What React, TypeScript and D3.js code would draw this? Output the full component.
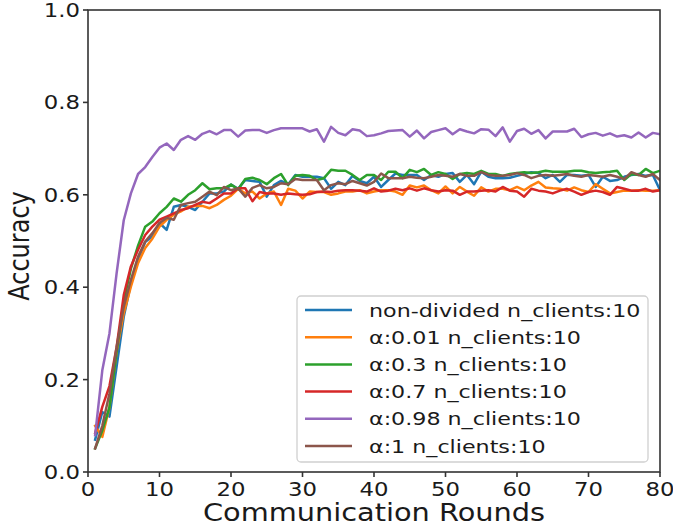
import React from "react";
import * as d3 from "d3";

const rounds: number[] = Array.from({ length: 80 }, (_, i) => i + 1);

const nonDivided: number[] = [
  0.07, 0.13, 0.12, 0.228, 0.336, 0.408, 0.459, 0.498, 0.51, 0.539,
  0.524, 0.574, 0.578, 0.574, 0.567, 0.585, 0.603, 0.603, 0.607, 0.622,
  0.613, 0.632, 0.63, 0.628, 0.596, 0.621, 0.63, 0.623, 0.643, 0.639,
  0.639, 0.639, 0.636, 0.613, 0.628, 0.621, 0.641, 0.63, 0.625, 0.639,
  0.617, 0.632, 0.646, 0.643, 0.643, 0.643, 0.632, 0.643, 0.639, 0.645,
  0.647, 0.628, 0.643, 0.623, 0.65, 0.639, 0.636, 0.636, 0.637, 0.641,
  0.645, 0.649, 0.647, 0.636, 0.643, 0.628, 0.643, 0.643, 0.641, 0.643,
  0.617, 0.639, 0.63, 0.632, 0.639, 0.643, 0.645, 0.641, 0.643, 0.61,
];

const alpha001: number[] = [
  0.1, 0.076, 0.14, 0.26, 0.344, 0.401, 0.452, 0.485, 0.505, 0.531,
  0.546, 0.557, 0.564, 0.574, 0.576, 0.576, 0.571, 0.578, 0.589, 0.598,
  0.613, 0.603, 0.607, 0.592, 0.603, 0.607, 0.578, 0.613, 0.609, 0.592,
  0.607, 0.606, 0.606, 0.6, 0.603, 0.607, 0.607, 0.61, 0.603, 0.607,
  0.61, 0.61, 0.607, 0.6, 0.62, 0.616, 0.62, 0.61, 0.603, 0.618,
  0.603, 0.617, 0.607, 0.598, 0.616, 0.607, 0.613, 0.613, 0.61, 0.617,
  0.61, 0.62, 0.628, 0.616, 0.614, 0.613, 0.609, 0.616, 0.61, 0.606,
  0.623, 0.613, 0.603, 0.606, 0.609, 0.609, 0.61, 0.609, 0.609, 0.61,
];

const alpha03: number[] = [
  0.051, 0.09, 0.14, 0.26, 0.37, 0.44, 0.49, 0.531, 0.542, 0.56,
  0.574, 0.592, 0.585, 0.6, 0.61, 0.625, 0.612, 0.614, 0.614, 0.622,
  0.612, 0.634, 0.637, 0.632, 0.623, 0.636, 0.645, 0.621, 0.641, 0.643,
  0.641, 0.632, 0.636, 0.654, 0.652, 0.652, 0.643, 0.632, 0.643, 0.643,
  0.632, 0.65, 0.65, 0.636, 0.654, 0.649, 0.656, 0.643, 0.649, 0.645,
  0.634, 0.645, 0.647, 0.645, 0.652, 0.645, 0.645, 0.641, 0.645, 0.647,
  0.649, 0.647, 0.649, 0.652, 0.65, 0.65, 0.65, 0.652, 0.652, 0.649,
  0.647, 0.649, 0.65, 0.652, 0.632, 0.645, 0.643, 0.656, 0.647, 0.652,
];

const alpha07: number[] = [
  0.084, 0.141, 0.186, 0.27, 0.383, 0.445, 0.481, 0.513, 0.531, 0.546,
  0.553, 0.56, 0.567, 0.571, 0.578, 0.585, 0.582, 0.592, 0.603, 0.603,
  0.614, 0.614, 0.586, 0.606, 0.603, 0.603, 0.6, 0.603, 0.601, 0.6,
  0.601, 0.606, 0.607, 0.606, 0.609, 0.61, 0.61, 0.609, 0.607, 0.614,
  0.607, 0.609, 0.613, 0.61, 0.614, 0.609, 0.614, 0.61, 0.607, 0.61,
  0.609, 0.6, 0.607, 0.607, 0.609, 0.61, 0.607, 0.617, 0.609, 0.607,
  0.596, 0.613, 0.609, 0.607, 0.603, 0.609, 0.613, 0.607, 0.6, 0.606,
  0.609, 0.606, 0.6, 0.617, 0.613, 0.609, 0.609, 0.613, 0.607, 0.61,
];

const alpha098: number[] = [
  0.08, 0.22, 0.3, 0.43, 0.545, 0.603, 0.645, 0.66, 0.682, 0.702,
  0.711, 0.697, 0.719, 0.727, 0.719, 0.732, 0.738, 0.731, 0.74, 0.74,
  0.726, 0.739, 0.74, 0.74, 0.734, 0.74, 0.744, 0.744, 0.744, 0.744,
  0.737, 0.742, 0.715, 0.747, 0.734, 0.729, 0.742, 0.739, 0.727, 0.729,
  0.733, 0.738, 0.739, 0.74, 0.726, 0.739, 0.722, 0.736, 0.74, 0.744,
  0.731, 0.742, 0.737, 0.733, 0.742, 0.741, 0.727, 0.746, 0.715, 0.738,
  0.743, 0.732, 0.74, 0.722, 0.737, 0.737, 0.737, 0.743, 0.725, 0.731,
  0.734, 0.728, 0.733, 0.726, 0.729, 0.724, 0.735, 0.724, 0.734, 0.731,
];

const alpha1: number[] = [
  0.051, 0.1, 0.17, 0.27, 0.358, 0.416, 0.466, 0.499, 0.517, 0.539,
  0.55, 0.546, 0.578, 0.582, 0.585, 0.596, 0.607, 0.599, 0.617, 0.61,
  0.614, 0.596, 0.615, 0.621, 0.614, 0.617, 0.625, 0.623, 0.634, 0.632,
  0.632, 0.632, 0.61, 0.621, 0.625, 0.623, 0.63, 0.625, 0.62, 0.628,
  0.646, 0.636, 0.636, 0.636, 0.639, 0.637, 0.636, 0.639, 0.643, 0.641,
  0.639, 0.645, 0.641, 0.641, 0.649, 0.643, 0.641, 0.641, 0.643, 0.647,
  0.643, 0.636, 0.641, 0.643, 0.641, 0.643, 0.645, 0.641, 0.639, 0.643,
  0.641, 0.639, 0.643, 0.639, 0.634, 0.649, 0.643, 0.639, 0.645, 0.632,
];

const seriesLabels: string[] = [
  "non-divided n_clients:10",
  "α:0.01 n_clients:10",
  "α:0.3 n_clients:10",
  "α:0.7 n_clients:10",
  "α:0.98 n_clients:10",
  "α:1 n_clients:10",
];
const seriesValues: number[][] = [nonDivided, alpha001, alpha03, alpha07, alpha098, alpha1];
const colors: string[] = ["#1f77b4", "#ff7f0e", "#2ca02c", "#d62728", "#9467bd", "#8c564b"];

const xTicks: number[] = [0, 10, 20, 30, 40, 50, 60, 70, 80];
const yTicks: number[] = [0, 0.2, 0.4, 0.6, 0.8, 1.0];

const W = 673;
const H = 528;
const left = 88;
const right = 660;
const top = 10;
const bottom = 472;
const FONT = "DejaVu Sans, sans-serif";
const SX = 1.2; // horizontal stretch of the original figure's text

export default function App() {
  const x = d3.scaleLinear().domain([0, 80]).range([left, right]);
  const y = d3.scaleLinear().domain([0, 1]).range([bottom, top]);
  const line = d3
    .line<number>()
    .x((_, i) => x(rounds[i]))
    .y((d) => y(d));

  const legX = 297;
  const legY = 296;
  const legW = 351;
  const legH = 166;
  const rowH = 27.2;

  return (
    <svg
      width={W}
      height={H}
      style={{ position: "absolute", left: 0, top: 0, background: "#fff" }}
      fontFamily={FONT}
    >
      <rect x={0} y={0} width={W} height={H} fill="#fff" />
      <defs>
        <clipPath id="clip">
          <rect x={left} y={top} width={right - left} height={bottom - top} />
        </clipPath>
      </defs>
      <g clipPath="url(#clip)">
        {seriesValues.map((vals, k) => (
          <path
            key={k}
            d={line(vals) || ""}
            fill="none"
            stroke={colors[k]}
            strokeWidth={2.5}
            strokeLinejoin="round"
            strokeLinecap="square"
          />
        ))}
      </g>
      <rect
        x={left}
        y={top}
        width={right - left}
        height={bottom - top}
        fill="none"
        stroke="#333"
        strokeWidth={1.6}
      />
      {xTicks.map((t) => (
        <g key={"x" + t}>
          <line x1={x(t)} x2={x(t)} y1={bottom} y2={bottom + 5} stroke="#333" strokeWidth={1.6} />
          <text
            transform={`translate(${x(t)}, ${bottom + 24}) scale(${SX},1)`}
            textAnchor="middle"
            fontSize={19}
            fill="#1a1a1a"
          >
            {t}
          </text>
        </g>
      ))}
      {yTicks.map((t) => (
        <g key={"y" + t}>
          <line x1={left - 5} x2={left} y1={y(t)} y2={y(t)} stroke="#333" strokeWidth={1.6} />
          <text
            transform={`translate(${left - 8}, ${y(t) + 7}) scale(${SX},1)`}
            textAnchor="end"
            fontSize={19}
            fill="#1a1a1a"
          >
            {t.toFixed(1)}
          </text>
        </g>
      ))}
      <text
        transform={`translate(${(left + right) / 2}, 521) scale(${SX},1)`}
        textAnchor="middle"
        fontSize={24}
        fill="#1a1a1a"
      >
        Communication Rounds
      </text>
      <text
        transform={`translate(29, 246) scale(${SX},1) rotate(-90)`}
        textAnchor="middle"
        fontSize={24}
        fill="#1a1a1a"
      >
        Accuracy
      </text>
      <rect
        x={legX}
        y={legY}
        width={legW}
        height={legH}
        rx={4}
        fill="#fff"
        fillOpacity={0.8}
        stroke="#d0d0d0"
        strokeWidth={1.3}
      />
      {seriesLabels.map((lab, k) => {
        const cy = legY + 14 + k * rowH;
        return (
          <g key={"l" + k}>
            <line x1={legX + 8} x2={legX + 55} y1={cy} y2={cy} stroke={colors[k]} strokeWidth={2.5} />
            <text
              transform={`translate(${legX + 72}, ${cy + 6.5}) scale(${SX},1)`}
              fontSize={18.5}
              fill="#1a1a1a"
            >
              {lab}
            </text>
          </g>
        );
      })}
    </svg>
  );
}
